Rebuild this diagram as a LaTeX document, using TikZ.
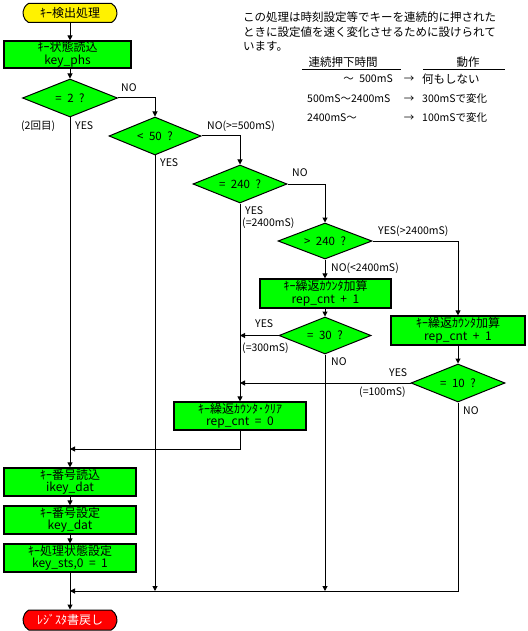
\documentclass[tikz,border=0pt]{standalone}
\usepackage{fontspec}
\setmainfont{Noto Sans CJK JP}
\usetikzlibrary{shapes.geometric,shapes.misc,arrows.meta}
\definecolor{kgreen}{RGB}{0,255,0}
\newcommand\hs{\hspace{5.5pt}}
\begin{document}
\begin{tikzpicture}[x=1pt,y=-1pt,
  font=\fontsize{12}{12.5}\selectfont,
  box/.style={draw,line width=1.2pt,fill=kgreen,minimum width=132pt,minimum height=28pt,inner sep=0pt,align=center},
  dec/.style={diamond,draw,line width=1pt,fill=kgreen,minimum width=94pt,minimum height=38pt,inner sep=0pt,aspect=2.5,font=\fontsize{11.5}{12}\selectfont},
  term/.style={rounded rectangle,rounded rectangle arc length=120,draw,line width=1pt,minimum width=94pt,minimum height=19pt,inner sep=0pt},
  arr/.style={line width=1pt,-{Triangle[length=5pt,width=5pt]}},
  lbl/.style={inner sep=0pt,anchor=west,font=\fontsize{10.5}{12}\selectfont},
  txt/.style={inner sep=0pt,font=\fontsize{11.5}{12}\selectfont}]
\fill[white] (0,0) rectangle (527,631);
\useasboundingbox (0,0) rectangle (527,631);

% description
\node[txt,anchor=west] (desc1) at (243,17.5) {この処理は時刻設定等でキーを連続的に押された};
\node[txt,anchor=west] (desc2) at (243,32) {ときに設定値を速く変化させるために設けられて};
\node[txt,anchor=west] (desc3) at (243,46.5) {います。};
\node[txt] (h1) at (343,62) {連続押下時間};
\node[txt] (h2) at (468,62) {動作};
\draw[line width=1pt] (302,70) -- (401,70);
\draw[line width=1pt] (423,70) -- (505,70);
\node[lbl,anchor=east] (r1a) at (393,79) {〜\hs 500mS};
\node[lbl,anchor=center] (r1b) at (409,79) {→};
\node[txt,anchor=west] (r1c) at (422,79) {何もしない};
\node[lbl] (r2a) at (307,99) {500mS〜2400mS};
\node[lbl,anchor=center] (r2b) at (409,99) {→};
\node[lbl] (r2c) at (422,99) {300mSで変化};
\node[lbl] (r3a) at (307,118) {2400mS〜};
\node[lbl,anchor=center] (r3b) at (409,118) {→};
\node[lbl] (r3c) at (422,118) {100mSで変化};

% flow nodes
\node[term,fill=yellow] (start) at (70,13) {ｷｰ検出処理};
\node[box,minimum width=127pt,minimum height=27pt] (b1) at (67.5,54.5) {ｷｰ状態読込\\key\_phs};
\node[dec,minimum width=95pt] (d1) at (70,98) {=\hs 2\hs ?};
\node[dec,minimum width=92pt] (d2) at (155,136) {<\hs 50\hs ?};
\node[dec] (d3) at (240,184) {=\hs 240\hs ?};
\node[dec,minimum height=36pt] (d4) at (325,241) {>\hs 240\hs ?};
\node[box,minimum width=131pt,minimum height=29pt] (b2) at (325.5,293.5) {ｷｰ繰返ｶｳﾝﾀ加算\\rep\_cnt\hs +\hs 1};
\node[dec,minimum width=92pt,minimum height=37pt] (d5) at (325,335.5) {=\hs 30\hs ?};
\node[box,minimum width=134pt,minimum height=29pt] (b3) at (458,330.5) {ｷｰ繰返ｶｳﾝﾀ加算\\rep\_cnt\hs +\hs 1};
\node[dec] (d6) at (458,383) {=\hs 10\hs ?};
\node[box] (b4) at (240,416) {ｷｰ繰返ｶｳﾝﾀ･ｸﾘｱ\\rep\_cnt\hs =\hs 0};
\node[box] (b5) at (70,482) {ｷｰ番号読込\\ikey\_dat};
\node[box] (b6) at (70,520) {ｷｰ番号設定\\key\_dat};
\node[box] (b7) at (70,558) {ｷｰ処理状態設定\\key\_sts,0\hs =\hs 1};
\node[term,fill=red,text=white,minimum height=20pt] (end) at (70,620) {ﾚｼﾞｽﾀ書戻し};

\coordinate (j449) at (70,449);
\coordinate (j591) at (70,591);

% connectors
\draw[arr] (start.south) -- (start.south |- b1.north);
\draw[arr] (d1.north |- b1.south) -- (d1.north);
\draw[arr] (d1.east) -| (d2.north);
\draw[arr] (d1.south) -- (b5.north);
\draw[arr] (d2.east) -| (d3.north);
\draw[arr] (d2.south) -- (d2.south |- j591);
\draw[arr] (d3.east) -| (d4.north);
\draw[arr] (d3.south) -- (b4.north);
\draw[arr] (d4.east) -| (b3.north);
\draw[arr] (d4.south) -- (d4.south |- b2.north);
\draw[arr] (d5.north |- b2.south) -- (d5.north);
\draw[arr] (d5.west) -- (d5.west -| d3.south);
\draw[arr] (d5.south) -- (d5.south |- j591);
\draw[arr] (b3.south) -- (d6.north);
\draw[arr] (d6.west) -- (d6.west -| d3.south);
\draw[arr] (d6.south) |- (j591);
\draw[arr] (b4.south) |- (j449);
\draw[arr] (b5.south) -- (b6.north);
\draw[arr] (b6.south) -- (b7.north);
\draw[arr] (b7.south) -- (end.north);

% labels
\node[lbl] (l1) at (121,88) {NO};
\node[lbl] (l2) at (21,126) {(2回目)};
\node[lbl] (l3) at (75,126) {YES};
\node[lbl] (l4) at (160,163) {YES};
\node[lbl] (l5) at (207,126) {NO(>=500mS)};
\node[lbl] (l6) at (292,173) {NO};
\node[lbl] (l7) at (245,211) {YES};
\node[lbl] (l8) at (242,223) {(=2400mS)};
\node[lbl] (l9) at (378,231) {YES(>2400mS)};
\node[lbl] (l10) at (331,268) {NO(<2400mS)};
\node[lbl] (l11) at (255,324) {YES};
\node[lbl] (l12) at (242,348) {(=300mS)};
\node[lbl] (l13) at (331,362) {NO};
\node[lbl] (l14) at (389,373) {YES};
\node[lbl] (l15) at (359,392) {(=100mS)};
\node[lbl] (l16) at (463,411) {NO};
\end{tikzpicture}
\end{document}
